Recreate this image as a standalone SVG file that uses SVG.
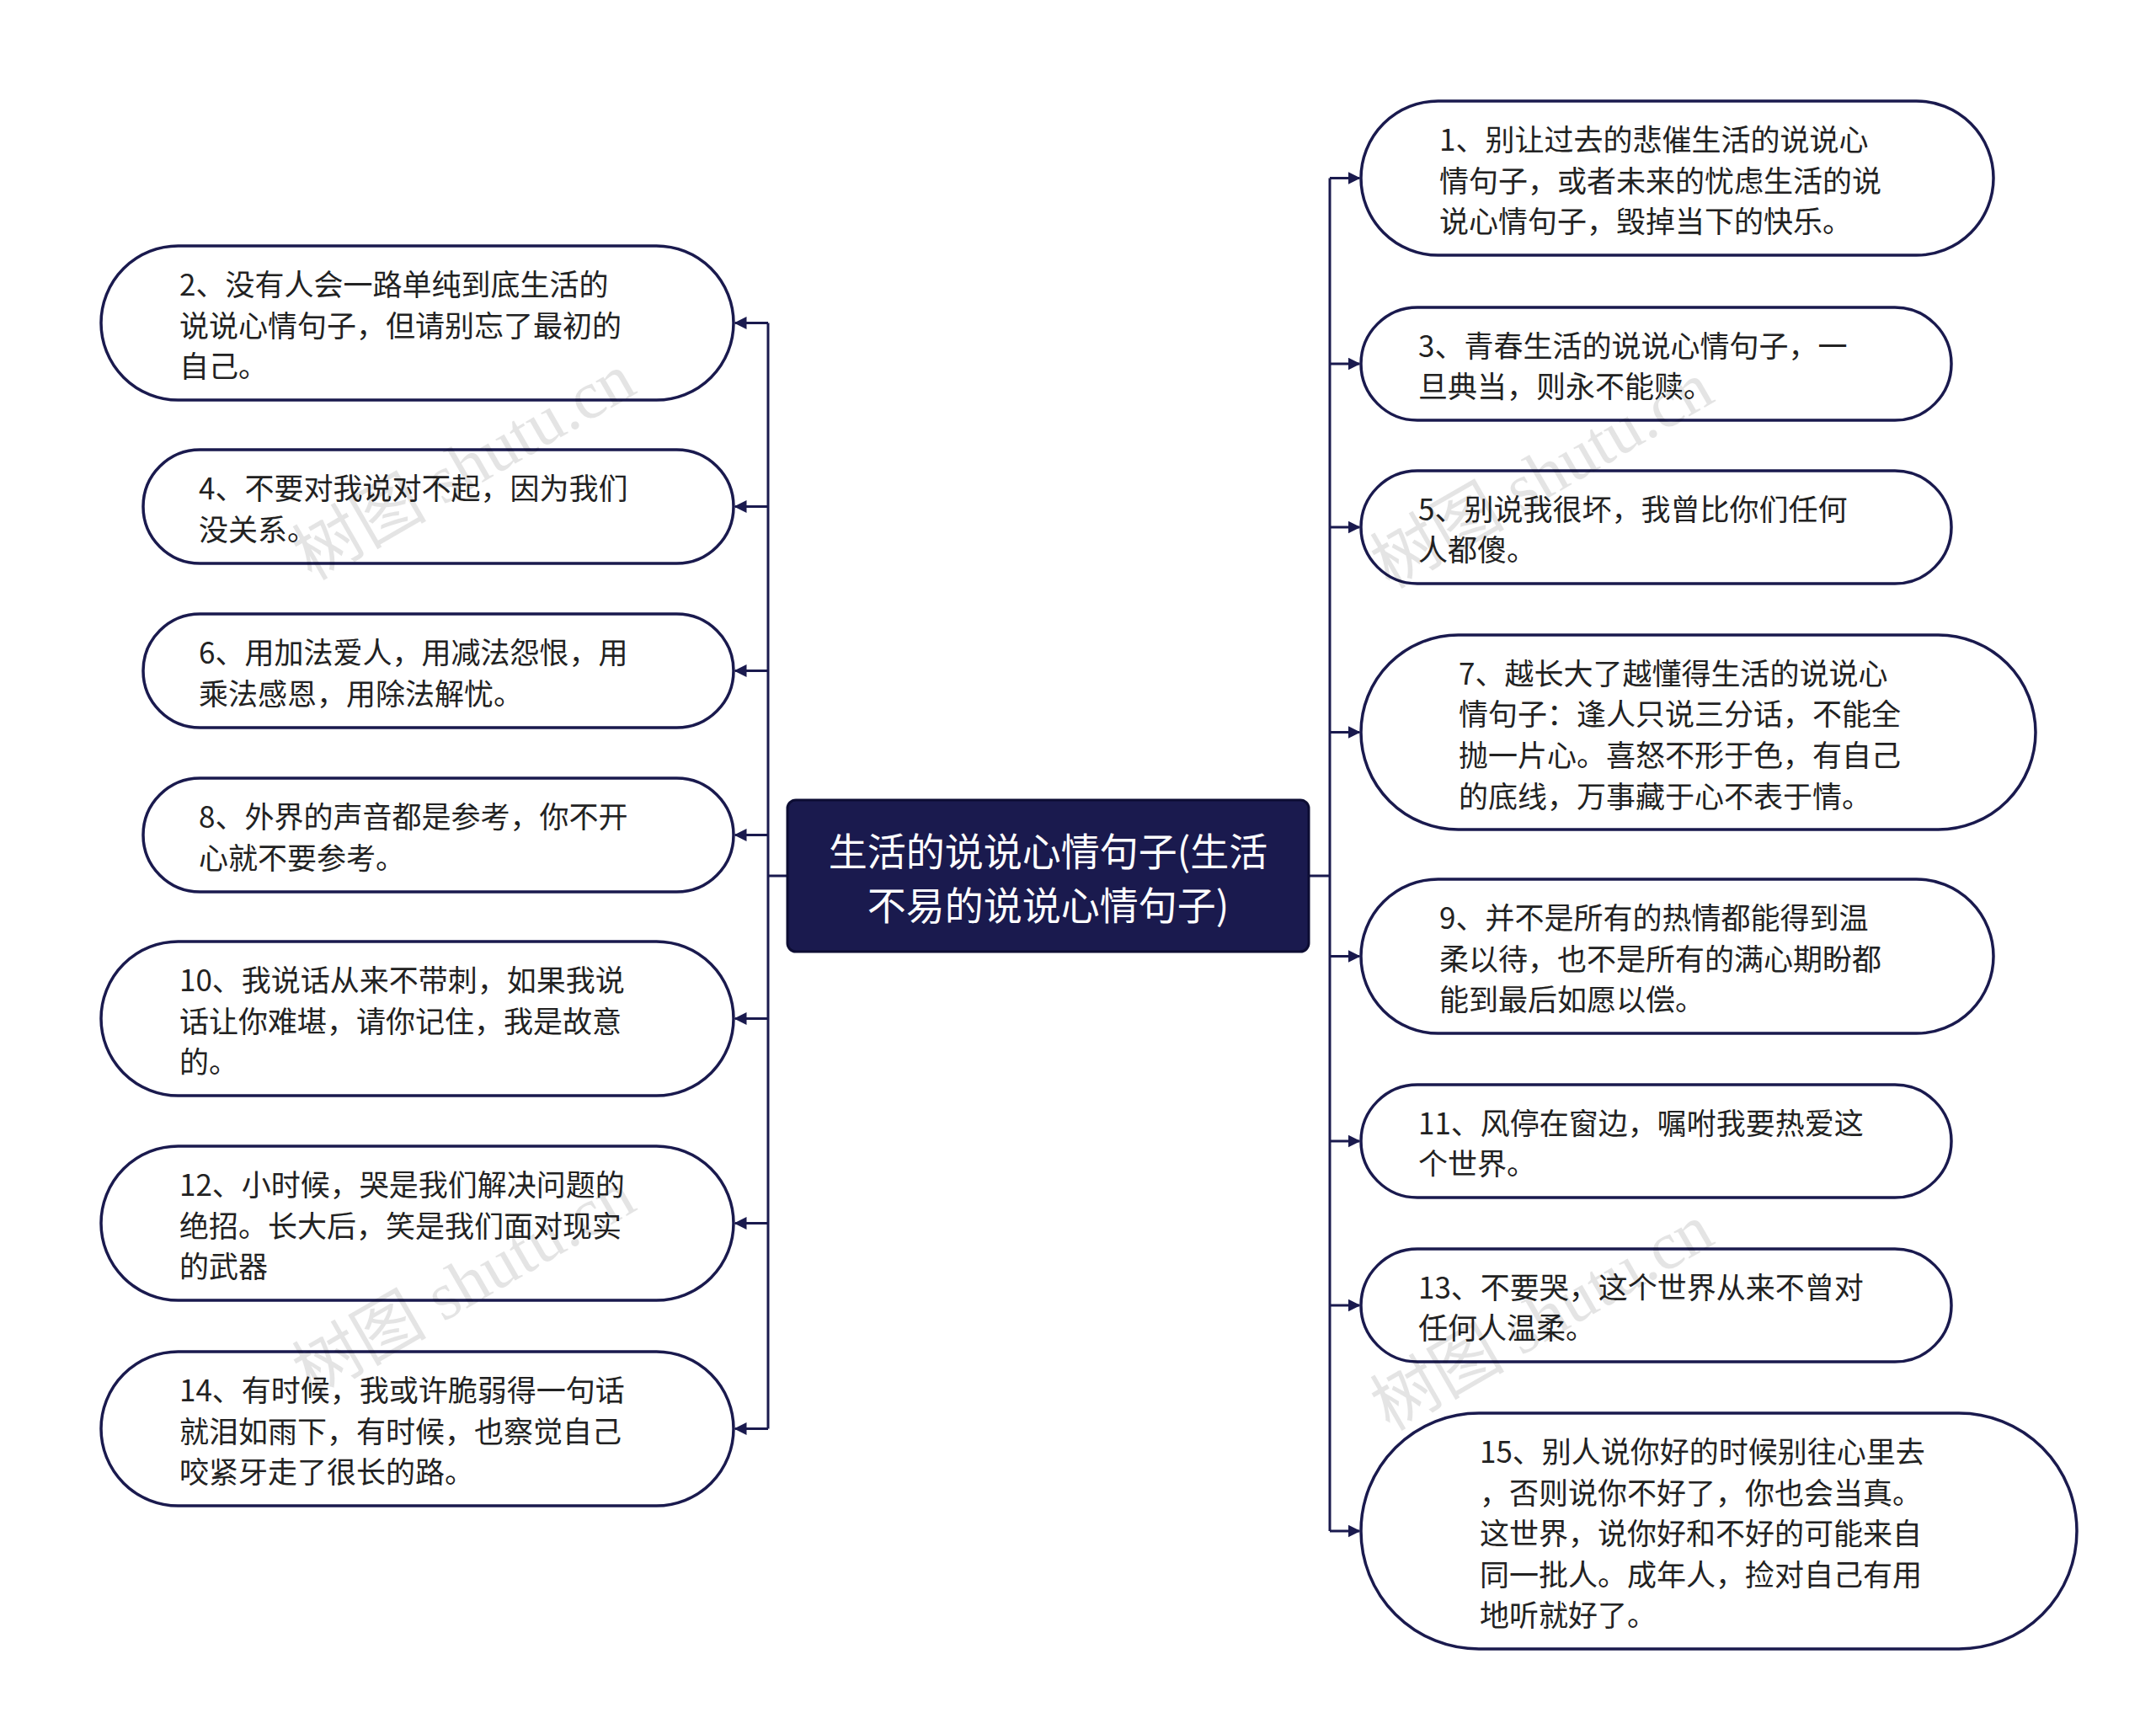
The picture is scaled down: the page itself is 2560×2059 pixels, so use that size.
<svg xmlns="http://www.w3.org/2000/svg" width="2560" height="2059" viewBox="0 0 2560 2059">
<style>
.n{fill:#fff;stroke:#1a1a4e;stroke-width:3.5}
.t{font-family:"Noto Sans CJK SC","Noto Sans",sans-serif;font-size:35px;fill:#222;dominant-baseline:central}
.c{stroke:#1a1a4e;stroke-width:3;fill:none}
.m{stroke:#1a1a4e;stroke-width:3;fill:none;marker-end:url(#a)}
.w{font-family:"Liberation Serif","Noto Sans CJK SC",serif;font-size:80px;fill:#000;opacity:0.1}
</style>
<defs><marker id="a" viewBox="0 0 10 10" refX="9" refY="5" markerWidth="5" markerHeight="5" orient="auto"><path d="M0,0L10,5L0,10z" fill="#1a1a4e"/></marker></defs>
<rect width="2560" height="2059" fill="#fff"/>
<g id="connectors">
<path class="c" d="M935,1040H912M912,383.5V1696.5M1554,1040H1579M1579,211.5V1818"/>
<path class="m" d="M912,383.5H873"/><path class="m" d="M912,601.5H873"/><path class="m" d="M912,796.5H873"/><path class="m" d="M912,991.5H873"/><path class="m" d="M912,1209.5H873"/><path class="m" d="M912,1452.5H873"/><path class="m" d="M912,1696.5H873"/>
<path class="m" d="M1579,211.5H1614"/><path class="m" d="M1579,432H1614"/><path class="m" d="M1579,626H1614"/><path class="m" d="M1579,869.5H1614"/><path class="m" d="M1579,1135.5H1614"/><path class="m" d="M1579,1355H1614"/><path class="m" d="M1579,1550H1614"/><path class="m" d="M1579,1818H1614"/>
</g>
<g id="center"><rect x="935" y="950" width="619" height="180" rx="10" fill="#1a1a4e" stroke="#0d0d33" stroke-width="3"/>
<text x="1244.5" y="1008" text-anchor="middle" style="font-family:'Noto Sans CJK SC',sans-serif;font-size:46px;fill:#fff;dominant-baseline:central">生活的说说心情句子(生活</text>
<text x="1244.5" y="1072" text-anchor="middle" style="font-family:'Noto Sans CJK SC',sans-serif;font-size:46px;fill:#fff;dominant-baseline:central">不易的说说心情句子)</text></g>
<g id="n2"><rect class="n" x="120" y="292" width="751" height="183" rx="91.5"/><text class="t" x="213"><tspan y="335">2、没有人会一路单纯到底生活的</tspan><tspan x="213" y="383.5">说说心情句子，但请别忘了最初的</tspan><tspan x="213" y="432">自己。</tspan></text></g>
<g id="n4"><rect class="n" x="170" y="534" width="701" height="135" rx="67.5"/><text class="t" x="236"><tspan y="577">4、不要对我说对不起，因为我们</tspan><tspan x="236" y="626">没关系。</tspan></text></g>
<g id="n6"><rect class="n" x="170" y="729" width="701" height="135" rx="67.5"/><text class="t" x="236"><tspan y="772">6、用加法爱人，用减法怨恨，用</tspan><tspan x="236" y="821">乘法感恩，用除法解忧。</tspan></text></g>
<g id="n8"><rect class="n" x="170" y="924" width="701" height="135" rx="67.5"/><text class="t" x="236"><tspan y="967">8、外界的声音都是参考，你不开</tspan><tspan x="236" y="1016">心就不要参考。</tspan></text></g>
<g id="n10"><rect class="n" x="120" y="1118" width="751" height="183" rx="91.5"/><text class="t" x="213"><tspan y="1161">10、我说话从来不带刺，如果我说</tspan><tspan x="213" y="1209.5">话让你难堪，请你记住，我是故意</tspan><tspan x="213" y="1258">的。</tspan></text></g>
<g id="n12"><rect class="n" x="120" y="1361" width="751" height="183" rx="91.5"/><text class="t" x="213"><tspan y="1404">12、小时候，哭是我们解决问题的</tspan><tspan x="213" y="1452.5">绝招。长大后，笑是我们面对现实</tspan><tspan x="213" y="1501">的武器</tspan></text></g>
<g id="n14"><rect class="n" x="120" y="1605" width="751" height="183" rx="91.5"/><text class="t" x="213"><tspan y="1648">14、有时候，我或许脆弱得一句话</tspan><tspan x="213" y="1696.5">就泪如雨下，有时候，也察觉自己</tspan><tspan x="213" y="1745">咬紧牙走了很长的路。</tspan></text></g>
<g id="n1"><rect class="n" x="1616" y="120" width="751" height="183" rx="91.5"/><text class="t" x="1709"><tspan y="163">1、别让过去的悲催生活的说说心</tspan><tspan x="1709" y="211.5">情句子，或者未来的忧虑生活的说</tspan><tspan x="1709" y="260">说心情句子，毁掉当下的快乐。</tspan></text></g>
<g id="n3"><rect class="n" x="1616" y="365" width="701" height="134" rx="67"/><text class="t" x="1684"><tspan y="408">3、青春生活的说说心情句子，一</tspan><tspan x="1684" y="456">旦典当，则永不能赎。</tspan></text></g>
<g id="n5"><rect class="n" x="1616" y="559" width="701" height="134" rx="67"/><text class="t" x="1684"><tspan y="602">5、别说我很坏，我曾比你们任何</tspan><tspan x="1684" y="650">人都傻。</tspan></text></g>
<g id="n7"><rect class="n" x="1616" y="754" width="801" height="231" rx="115.5"/><text class="t" x="1732"><tspan y="797">7、越长大了越懂得生活的说说心</tspan><tspan x="1732" y="845">情句子：逢人只说三分话，不能全</tspan><tspan x="1732" y="894">抛一片心。喜怒不形于色，有自己</tspan><tspan x="1732" y="943">的底线，万事藏于心不表于情。</tspan></text></g>
<g id="n9"><rect class="n" x="1616" y="1044" width="751" height="183" rx="91.5"/><text class="t" x="1709"><tspan y="1087">9、并不是所有的热情都能得到温</tspan><tspan x="1709" y="1135.5">柔以待，也不是所有的满心期盼都</tspan><tspan x="1709" y="1184">能到最后如愿以偿。</tspan></text></g>
<g id="n11"><rect class="n" x="1616" y="1288" width="701" height="134" rx="67"/><text class="t" x="1684"><tspan y="1331">11、风停在窗边，嘱咐我要热爱这</tspan><tspan x="1684" y="1379">个世界。</tspan></text></g>
<g id="n13"><rect class="n" x="1616" y="1483" width="701" height="134" rx="67"/><text class="t" x="1684"><tspan y="1526">13、不要哭，这个世界从来不曾对</tspan><tspan x="1684" y="1574">任何人温柔。</tspan></text></g>
<g id="n15"><rect class="n" x="1616" y="1678" width="850" height="280" rx="140"/><text class="t" x="1757"><tspan y="1721">15、别人说你好的时候别往心里去</tspan><tspan x="1757" y="1769.5">，否则说你不好了，你也会当真。</tspan><tspan x="1757" y="1818">这世界，说你好和不好的可能来自</tspan><tspan x="1757" y="1866.5">同一批人。成年人，捡对自己有用</tspan><tspan x="1757" y="1915">地听就好了。</tspan></text></g>
<g id="watermarks">
<text class="w" transform="translate(370,690) rotate(-30)">树图 shutu.cn</text>
<text class="w" transform="translate(370,1660) rotate(-30)">树图 shutu.cn</text>
<text class="w" transform="translate(1650,700) rotate(-30)">树图 shutu.cn</text>
<text class="w" transform="translate(1650,1700) rotate(-30)">树图 shutu.cn</text>
</g>
</svg>
